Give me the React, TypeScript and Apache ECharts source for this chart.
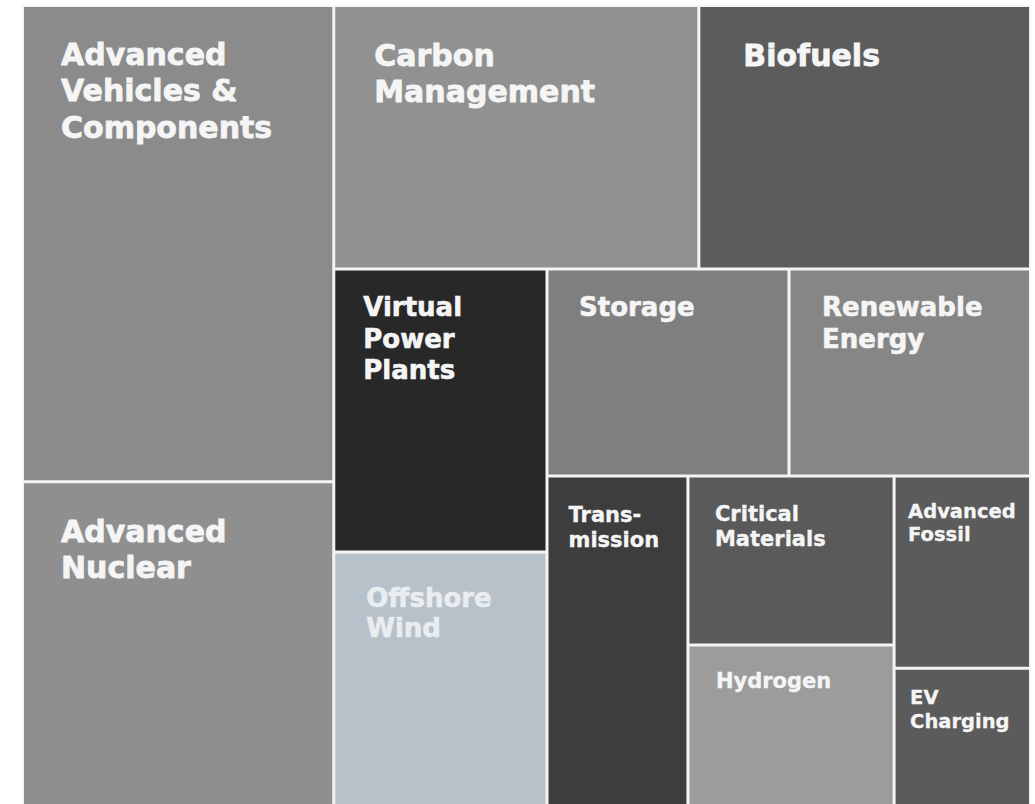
import React, { useEffect, useRef } from 'react';
import * as echarts from 'echarts';

// ---- data ----
const categories = [
  'Advanced Vehicles & Components',
  'Advanced Nuclear',
  'Carbon Management',
  'Biofuels',
  'Virtual Power Plants',
  'Offshore Wind',
  'Storage',
  'Renewable Energy',
  'Transmission',
  'Critical Materials',
  'Hydrogen',
  'Advanced Fossil',
  'EV Charging',
];
const values = [148.2, 101.4, 96.2, 87.4, 60.3, 54.5, 50.1, 50.0, 46.7, 34.8, 33.5, 26.2, 19.0];
const labelTexts = [
  'Advanced\nVehicles &\nComponents',
  'Advanced\nNuclear',
  'Carbon\nManagement',
  'Biofuels',
  'Virtual\nPower\nPlants',
  'Offshore\nWind',
  'Storage',
  'Renewable\nEnergy',
  'Trans-\nmission',
  'Critical\nMaterials',
  'Hydrogen',
  'Advanced\nFossil',
  'EV\nCharging',
];

// ---- styles ----
const fills = [
  '#8b8b8b', '#8f8f8f', '#919191', '#5c5c5c', '#282828', '#b7c1ca', '#7f7f7f',
  '#868686', '#3d3d3d', '#5a5a5a', '#9c9c9c', '#5b5b5b', '#5b5b5b',
];
const textColors = [
  '#f5f5f5', '#f5f5f5', '#f5f5f5', '#f5f5f5', '#f5f5f5', '#e9edf0', '#f5f5f5',
  '#f5f5f5', '#f5f5f5', '#f5f5f5', '#f5f5f5', '#f5f5f5', '#f5f5f5',
];
// [fontSize, lineHeight, offsetX, offsetY, strokeWidth]
const labelLayout: number[][] = [
  [30, 36.5, 37, 29, 0.8],
  [30, 36.5, 37, 30, 0.8],
  [30, 36.5, 39, 30, 0.8],
  [30, 36.5, 43, 30, 0.8],
  [26, 31.5, 28, 21, 0.6],
  [26, 30, 31, 30, 0.6],
  [26, 31.5, 30.5, 21, 0.6],
  [26, 31.5, 31.5, 21, 0.6],
  [21, 25, 20, 24.4, 0.35],
  [21, 25, 25.5, 23.5, 0.35],
  [21, 25, 26.5, 22.5, 0.35],
  [19.5, 23.5, 12.5, 22, 0.3],
  [19.5, 23.5, 14.5, 16.5, 0.3],
];

const BORDER = '#f4f4f4';

function leaf(i: number) {
  const [fs, lh, dx, dy, sw] = labelLayout[i];
  return {
    name: categories[i],
    value: values[i],
    itemStyle: { color: fills[i], borderWidth: 1.5, borderColor: BORDER },
    label: {
      show: true,
      formatter: () => labelTexts[i],
      position: [dx, dy],
      align: 'left',
      verticalAlign: 'top',
      fontSize: fs,
      lineHeight: lh,
      color: textColors[i],
      textBorderColor: textColors[i],
      textBorderWidth: sw,
    },
  };
}

function buildTree() {
  return [
    leaf(0),
    leaf(1),
    {
      name: 'right',
      children: [
        leaf(2),
        leaf(3),
        {
          name: 'lower',
          children: [
            leaf(4),
            leaf(5),
            {
              name: 'middle',
              children: [
                leaf(6),
                leaf(7),
                {
                  name: 'bottom',
                  children: [
                    leaf(8),
                    { name: 'small', children: [leaf(9), leaf(10), leaf(11), leaf(12)] },
                  ],
                },
              ],
            },
          ],
        },
      ],
    },
  ];
}

export default function App() {
  const ref = useRef<HTMLDivElement>(null);
  useEffect(() => {
    if (!ref.current) return;
    const chart = echarts.init(ref.current, undefined, { renderer: 'svg' });
    chart.setOption({
      animation: false,
      backgroundColor: '#ffffff',
      series: [
        {
          type: 'treemap',
          left: 22.5,
          top: 5.5,
          width: 1008,
          height: 802,
          roam: false,
          nodeClick: false,
          sort: false,
          squareRatio: 1,
          visibleMin: 0,
          breadcrumb: { show: false },
          silent: true,
          itemStyle: { borderWidth: 0, gapWidth: 0, borderColor: BORDER },
          upperLabel: { show: false },
          label: {
            show: true,
            padding: 0,
            overflow: 'none',
            fontFamily: 'DejaVu Sans',
            fontWeight: 'bold',
            color: '#f5f5f5',
          },
          emphasis: { disabled: true },
          data: buildTree(),
        },
      ],
    });
    return () => chart.dispose();
  }, []);
  return (
    <div
      ref={ref}
      style={{ position: 'fixed', left: 0, top: 0, width: 1035, height: 804, background: '#fff' }}
    />
  );
}
